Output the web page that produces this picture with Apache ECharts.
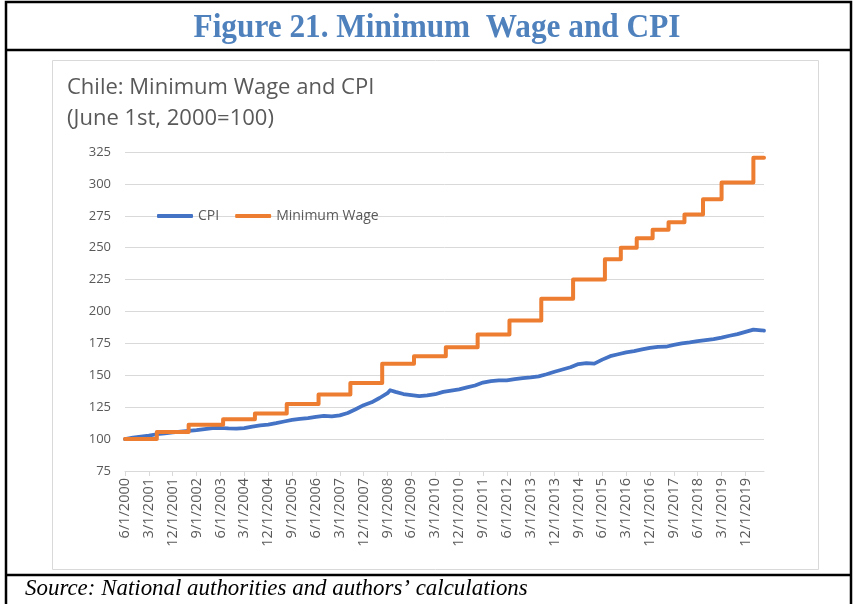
<!DOCTYPE html>
<html>
<head>
<meta charset="utf-8">
<title>Minimum Wage and CPI</title>
<script src="https://cdn.jsdelivr.net/npm/echarts/dist/echarts.min.js"></script>
<style>
    html, body { margin: 0; padding: 0; background: #fff; }
    #chart { width: 854px; height: 604px; }
</style>
</head>
<body>
<div id="chart"></div>
<script>
// monthly categories 6/1/2000 .. 7/1/2020
const startYear = 2000
const startMonth = 6
const monthCount = 242
const months = []
for (let i = 0; i < monthCount; i++) {
    const k = startMonth - 1 + i
    months.push((k % 12 + 1) + '/1/' + (startYear + Math.floor(k / 12)))
}

// Minimum wage index: value from each adjustment date on
const wageDates = ['6/1/2000', '6/1/2001', '6/1/2002', '7/1/2003', '7/1/2004', '7/1/2005', '7/1/2006',
    '7/1/2007', '7/1/2008', '7/1/2009', '7/1/2010', '7/1/2011', '7/1/2012', '7/1/2013', '7/1/2014',
    '7/1/2015', '1/1/2016', '7/1/2016', '1/1/2017', '7/1/2017', '1/1/2018', '8/1/2018', '3/1/2019',
    '3/1/2020', '7/1/2020']
const wageValues = [100, 105.5, 111.2, 115.6, 120, 127.5, 135, 144, 159, 165, 172, 182, 193, 210, 225,
    241, 250, 257.5, 264, 270, 276, 288, 301, 320.5, 320.5]

// CPI index (June 1st, 2000 = 100), read roughly every quarter
const cpiDates = ['6/1/2000', '9/1/2000', '12/1/2000', '3/1/2001', '6/1/2001', '9/1/2001', '12/1/2001',
    '3/1/2002', '6/1/2002', '9/1/2002', '12/1/2002', '3/1/2003', '6/1/2003', '9/1/2003', '12/1/2003',
    '3/1/2004', '6/1/2004', '9/1/2004', '12/1/2004', '3/1/2005', '6/1/2005', '9/1/2005', '12/1/2005',
    '3/1/2006', '6/1/2006', '9/1/2006', '12/1/2006', '3/1/2007', '6/1/2007', '9/1/2007', '12/1/2007',
    '3/1/2008', '6/1/2008', '9/1/2008', '10/1/2008', '12/1/2008', '3/1/2009', '6/1/2009', '9/1/2009',
    '12/1/2009', '3/1/2010', '6/1/2010', '9/1/2010', '12/1/2010', '3/1/2011', '6/1/2011', '9/1/2011',
    '12/1/2011', '3/1/2012', '6/1/2012', '9/1/2012', '12/1/2012', '3/1/2013', '6/1/2013', '9/1/2013',
    '12/1/2013', '3/1/2014', '6/1/2014', '9/1/2014', '12/1/2014', '3/1/2015', '6/1/2015', '9/1/2015',
    '12/1/2015', '3/1/2016', '6/1/2016', '9/1/2016', '12/1/2016', '3/1/2017', '6/1/2017', '9/1/2017',
    '12/1/2017', '3/1/2018', '6/1/2018', '9/1/2018', '12/1/2018', '3/1/2019', '6/1/2019', '9/1/2019',
    '12/1/2019', '3/1/2020', '6/1/2020', '7/1/2020']
const cpiValues = [100.0, 101.2, 102.0, 102.7, 103.8, 104.5, 105.2,
    105.8, 106.4, 107.0, 107.8, 108.6, 108.7, 108.4, 108.3,
    108.6, 109.8, 110.8, 111.4, 112.5, 113.8, 115.0, 115.8,
    116.5, 117.4, 118.2, 117.8, 118.6, 120.5, 123.4, 126.6,
    128.8, 132.2, 136.0, 138.3, 137.0, 135.3, 134.5, 133.6,
    134.2, 135.2, 137.0, 138.0, 139.0, 140.5, 142.0, 144.3,
    145.5, 146.0, 146.0, 147.0, 147.8, 148.3, 149.2, 150.8,
    152.8, 154.5, 156.3, 158.8, 159.6, 159.2, 162.3, 165.0,
    166.5, 168.0, 169.0, 170.3, 171.5, 172.3, 172.4, 173.8,
    175.0, 175.8, 176.8, 177.6, 178.3, 179.5, 181.0, 182.3,
    184.0, 185.8, 185.3, 185.0]

const yTicks = { min: 75, max: 325, step: 25 }

const wageData = wageDates.map((d, i) => [d, wageValues[i]])
const cpiData = cpiDates.map((d, i) => [d, cpiValues[i]])

const myChart = echarts.init(document.getElementById('chart'))

const option = {
    animation: false,
    title: {
        text: 'Chile: Minimum Wage and CPI\n(June 1st, 2000=100)',
        left: 67,
        top: 72,
        padding: 0,
        textStyle: {
            fontFamily: 'Open Sans',
            fontSize: 22,
            lineHeight: 31,
            fontWeight: 'normal',
            color: '#595959',
        },
    },
    legend: {
        left: 152,
        top: 204,
        icon: 'roundRect',
        itemWidth: 36,
        itemHeight: 4,
        itemGap: 16,
        textStyle: {
            fontFamily: 'Open Sans',
            fontSize: 14,
            color: '#595959',
        },
        data: ['CPI', 'Minimum Wage'],
    },
    grid: {
        left: 125,
        right: 90,
        top: 152,
        bottom: 133,
        containLabel: false,
    },
    xAxis: {
        type: 'category',
        boundaryGap: false,
        data: months,
        axisLine: { lineStyle: { color: '#d9d9d9', width: 1 } },
        axisTick: { show: true, interval: 8, length: 5, lineStyle: { color: '#d9d9d9' } },
        axisLabel: {
            interval: 8,
            rotate: 90,
            margin: 7,
            fontFamily: 'Open Sans',
            fontSize: 14.5,
            color: '#595959',
        },
        splitLine: { show: false },
    },
    yAxis: {
        type: 'value',
        min: yTicks.min,
        max: yTicks.max,
        interval: yTicks.step,
        axisLine: { show: false },
        axisTick: { show: false },
        axisLabel: {
            margin: 14,
            fontFamily: 'Open Sans',
            fontSize: 13,
            color: '#595959',
        },
        splitLine: { lineStyle: { color: '#d9d9d9', width: 1 } },
    },
    series: [
        {
            name: 'CPI',
            type: 'line',
            data: cpiData,
            showSymbol: false,
            symbol: 'none',
            itemStyle: { color: '#4472c4' },
            lineStyle: { color: '#4472c4', width: 3.75, cap: 'round', join: 'round' },
        },
        {
            name: 'Minimum Wage',
            type: 'line',
            step: 'end',
            data: wageData,
            showSymbol: false,
            symbol: 'none',
            itemStyle: { color: '#ed7d31' },
            lineStyle: { color: '#ed7d31', width: 4, cap: 'round', join: 'round' },
        },
    ],
    graphic: [
        // outer frame and row rules
        {
            type: 'rect',
            shape: { x: 6, y: 2, width: 845, height: 620 },
            style: { fill: 'none', stroke: '#000', lineWidth: 2.5 },
            silent: true,
        },
        {
            type: 'line',
            shape: { x1: 6, y1: 50, x2: 851, y2: 50 },
            style: { stroke: '#000', lineWidth: 2.5 },
            silent: true,
        },
        {
            type: 'line',
            shape: { x1: 6, y1: 575, x2: 851, y2: 575 },
            style: { stroke: '#000', lineWidth: 2.5 },
            silent: true,
        },
        // border of the embedded chart
        {
            type: 'rect',
            shape: { x: 52.5, y: 60.5, width: 766, height: 509 },
            style: { fill: 'none', stroke: '#d9d9d9', lineWidth: 1 },
            silent: true,
        },
        {
            type: 'text',
            x: 437,
            y: 28,
            scaleX: 0.92,
            style: {
                text: 'Figure 21. Minimum  Wage and CPI',
                font: 'bold 34px "Liberation Serif"',
                fill: '#4f81bd',
                align: 'center',
                verticalAlign: 'middle',
                textAlign: 'center',
                textVerticalAlign: 'middle',
            },
            silent: true,
        },
        {
            type: 'text',
            x: 25,
            y: 589,
            scaleX: 0.955,
            style: {
                text: 'Source: National authorities and authors’ calculations',
                font: 'italic 24px "Liberation Serif"',
                fill: '#000',
                align: 'left',
                verticalAlign: 'middle',
                textAlign: 'left',
                textVerticalAlign: 'middle',
            },
            silent: true,
        },
    ],
}

myChart.setOption(option)
</script>
</body>
</html>
